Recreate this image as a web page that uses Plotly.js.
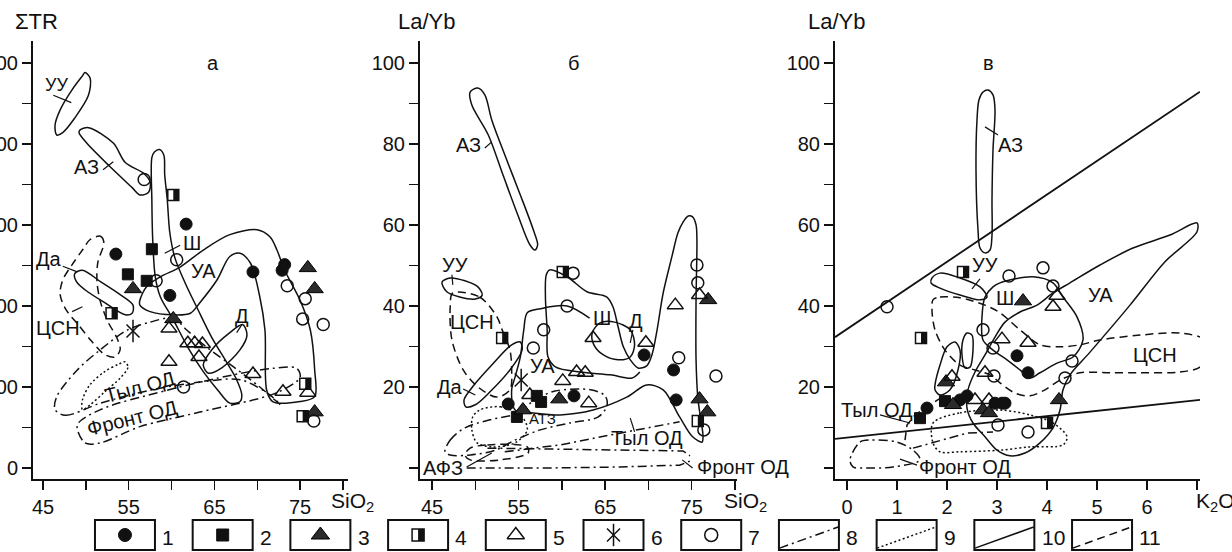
<!DOCTYPE html>
<html><head><meta charset="utf-8">
<script src="https://cdn.plot.ly/plotly-3.0.1.min.js"></script>
<style>body{margin:0;background:#fff}#chart{width:1232px;height:552px}</style>
</head><body><div id="chart"></div>
<script>
// ---------- Panel а : SiO2 vs ΣTR ----------
const aCircX=[61.7,53.5,59.8,69.5,72.9,73.2], aCircY=[301,264,213,242,244,251];
const aSqX=[57.7,54.9,57.1], aSqY=[270,239,231];
const aTriX=[55.5,60.2,75.9,76.7,76.7], aTriY=[221,184,247,221,69];
const aHalfX=[60.2,53.0,75.6,75.3], aHalfY=[337,191,104,64];
const aOTriX=[59.7,61.9,62.7,63.6,63.2,59.7,69.5,73.0,75.9], aOTriY=[172,154,154,153,137,131,116,94,93];
const aStarX=[55.5], aStarY=[169];
const aOCircX=[56.8,60.6,58.2,61.4,73.5,75.6,75.3,77.7,76.6], aOCircY=[356,257,231,100,225,209,184,177,58];
// fields panel а
const aUUx=[49.9,50.5,50.3,48.7,47.3,46.6,46.4,47.0,48.4,49.6,49.9], aUUy=[488,481,460,432,414,411,423,442,467,484,488];
const aAZx=[49.3,50.3,53.2,54.6,56.7,57.5,57.3,56.3,55.4,52.8,50.1,49.2,49.3], aAZy=[417,420,401,377,364,353,340,337,346,372,401,414,417];
const aShx=[57.7,58.0,58.6,59.1,59.2,59.5,59.8,60.4,61.6,63.1,64.7,66.4,67.5,68.2,68.0,66.8,65.4,63.7,61.9,60.1,58.7,58.1,57.8,57.7,57.7];
const aShy=[383,390,393,386,362,331,290,259,228,195,161,131,111,90,82,80,96,119,149,185,211,236,282,331,383];
const aUAx=[56.3,57.1,58.7,61.0,63.7,66.8,70.0,71.5,72.3,73.2,75.0,76.2,76.7,76.7,75.0,71.8,71.1,70.9,70.3,69.2,68.0,66.8,65.3,63.3,62.2,60.2,57.5,56.3,56.3];
const aUAy=[207,224,236,248,269,288,294,285,269,244,207,170,121,88,82,82,96,170,211,253,265,261,232,204,191,189,193,201,207];
const aDx=[68.3,68.8,68.0,65.9,64.3,63.7,64.7,66.8,68.3], aDy=[177,164,146,124,117,127,146,167,177];
const aDax=[48.7,49.6,51.7,54.0,55.5,55.4,54.6,52.2,49.9,48.9,48.7], aDay=[240,244,230,214,201,191,189,204,220,230,240];
const aCSNx=[50.5,51.7,52.1,51.4,51.3,51.7,52.6,53.6,54.0,53.4,52.2,50.7,49.1,47.7,47.0,47.3,48.4,49.6,50.5];
const aCSNy=[282,286,278,254,230,205,180,161,146,137,140,156,177,195,214,232,251,269,282];
const aDotX=[54.6,54.9,54.0,52.2,50.5,49.6,49.6,50.5,52.2,53.8,54.6], aDotY=[131,124,111,94,78,72,84,103,119,128,131];
const aTylX=[46.4,47.6,51.7,57.5,63.3,68.0,71.5,72.7,70.3,67.2,64.1,61.8,60.2,57.5,54.8,51.7,49.0,46.6,46.4];
const aTylY=[72,65,80,96,106,109,90,78,100,125,149,170,185,180,170,146,121,88,72];
const aFrX=[49.0,49.9,51.7,56.3,63.3,72.3,75.0,74.6,71.8,67.2,59.5,51.7,49.0], aFrY=[53,31,31,51,69,93,112,123,123,115,96,72,53];
const aLeadX=[46.2,48.3,null,52.0,53.2,null,59.2,61.0,null,68.2,67.6,null,47.3,49.0,null,48.4,49.6];
const aLeadY=[460,451,null,368,378,null,265,275,null,177,167,null,249,242,null,193,199];

// ---------- Panel б : SiO2 vs La/Yb ----------
const bCircX=[69.5,72.9,61.4,53.8,73.2], bCircY=[27.9,24.2,17.8,15.8,16.8];
const bSqX=[57.1,57.6,54.8], bSqY=[17.8,16.3,12.6];
const bTriX=[76.9,75.9,76.8,59.7,55.5], bTriY=[41.5,17.0,13.8,17.0,14.3];
const bHalfX=[60.1,53.1,75.7], bHalfY=[48.4,32.1,11.6];
const bOTriX=[63.6,69.7,73.1,75.9,60.1,61.7,62.7,63.1,56.3], bOTriY=[32.1,30.9,40.2,42.7,21.5,23.7,23.5,16.0,18.0];
const bStarX=[55.3], bStarY=[21.7];
const bOCircX=[61.3,60.6,57.9,56.7,75.6,75.7,73.5,77.8,76.4], bOCircY=[48.1,40.0,34.1,29.6,50.1,45.7,27.2,22.7,9.4];
const bAZx=[49.4,50.3,51.1,51.9,53.4,55.2,56.7,57.2,56.9,56.3,54.9,53.2,51.5,49.6,49.4];
const bAZy=[92.8,93.8,92.1,85.9,77.3,67.4,58.8,55.1,53.8,55.1,62.5,72.3,82.2,89.6,92.8];
const bUUx=[46.15,47.1,48.8,50.3,50.8,50.0,48.2,46.7,46.15], bUUy=[45.9,46.9,46.2,44.7,42.7,41.7,42.2,43.5,45.9];
const bDax=[54.2,55.2,55.4,54.0,51.7,50.0,48.9,48.7,49.6,51.9,54.2], bDay=[30.4,31.1,29.1,24.2,18.8,15.6,15.1,16.8,19.8,25.4,30.4];
const bCSNx=[47.4,50.5,52.5,53.1,54.0,54.2,54.0,52.5,50.3,48.6,47.3,47.1,47.4], bCSNy=[43.2,42.2,37.3,34.1,29.1,24.2,19.3,17.5,20.0,24.2,31.6,39.8,43.2];
const bShx=[63.2,60.6,57.5,56.0,55.6,55.2,54.6,54.2,54.6,56.7,59.8,63.6,67.5,69.8,71.7,73.6,75.1,76.2,76.3,76.0,75.7,75.5,75.5,75.6,75.5,75.1,74.6,74.0,73.4,72.7,71.7,71.0,70.4,69.8,68.8,67.9,67.1,66.5,65.9,65.2,62.9,60.6,58.6,58.2,58.1,58.3,58.4,59.3,62.1,65.6,68.1,69.0];
const bShy=[37.0,40.0,39.3,38.3,34.1,27.4,22.5,19.3,14.3,13.6,13.1,14.3,17.5,20.5,19.3,12.6,7.7,6.4,8.1,12.6,17.5,26.7,41.5,56.3,60.0,62.0,62.2,60.7,58.0,52.1,43.2,34.1,27.9,25.2,24.7,26.7,29.9,34.8,39.8,42.2,43.5,47.2,48.9,47.7,42.2,34.1,27.4,24.9,23.7,23.0,22.2,23.7];
const bDx=[63.5,64.4,66.1,67.9,68.4,67.9,66.5,64.8,63.7,63.5], bDy=[33.3,35.8,36.0,34.1,30.4,27.4,26.7,27.9,30.4,33.3];
const bTylX=[46.5,47.1,48.8,51.7,54.6,56.9,59.2,63.3,65.0,65.2,64.2,60.9,57.5,54.6,52.3,49.4,47.1,46.5];
const bTylY=[4.0,6.9,9.9,11.9,13.3,16.8,19.0,19.3,17.8,15.3,12.6,11.1,9.4,6.9,4.4,3.2,3.2,4.0];
const bDD2x=[53.4,59.8,66.7,73.6], bDD2y=[4.0,5.7,8.6,11.4];
const bDD3x=[51.4,58.6,66.7,74.0,74.8], bDD3y=[4.9,4.7,4.4,4.2,3.0];
const bDD4x=[49.0,58.6,66.7,73.6,74.8], bDD4y=[0,0,0.25,0.7,1.7];
const bDotX=[50.5,52.9,55.4,56.0,54.6,52.0,50.2,49.6,49.7,50.5], bDotY=[14.3,15.1,12.6,9.4,6.2,5.2,6.2,9.4,12.6,14.3];
const bDashX=[49.4,51.4,56.0,56.1,52.9,49.4,48.8,49.4], bDashY=[4.9,5.7,5.2,3.7,2.0,2.0,3.2,4.9];
const bLeadX=[51.1,51.9,null,47.3,47.4,null,48.6,50.0,null,68.2,67.9,null,67.9,68.4,null,73.9,75.1,null,49.0,51.9];
const bLeadY=[79.0,80.5,null,47.7,45.2,null,19.5,18.0,null,34.1,30.9,null,12.3,8.9,null,2.0,0,null,0.25,3.7];

// ---------- Panel в : K2O vs La/Yb ----------
const cCircX=[3.40,3.62,1.60,2.26,2.40,2.96,3.10,3.16], cCircY=[27.7,23.5,14.8,16.8,17.8,16.0,16.0,16.0];
const cSqX=[1.96,1.46], cSqY=[16.5,12.3];
const cTriX=[3.52,1.98,2.12,2.72,2.84,4.24], cTriY=[41.2,21.2,15.6,14.3,13.6,16.8];
const cHalfX=[2.32,1.48,4.00], cHalfY=[48.4,32.1,11.1];
const cOTriX=[4.20,4.12,3.10,3.62,2.76,2.10,2.56,2.84], cOTriY=[42.5,39.8,31.8,30.9,23.5,22.5,16.8,16.8];
const cOCircX=[0.80,3.24,3.92,4.12,2.72,2.92,4.50,2.94,4.36,3.62,3.02], cOCircY=[39.8,47.4,49.4,44.9,34.1,29.6,26.4,22.7,22.2,8.9,10.6];
const cAZx=[2.72,2.82,2.92,2.96,2.92,2.90,2.90,2.86,2.76,2.66,2.62,2.58,2.60,2.64,2.72];
const cAZy=[92.8,93.3,92.1,88.4,78.5,66.2,57.5,53.8,53.1,54.3,58.8,73.6,85.9,90.9,92.8];
const cUUx=[1.70,1.86,2.26,2.66,2.80,2.66,2.26,1.86,1.68,1.70], cUUy=[46.9,48.1,46.9,44.7,42.2,41.5,42.7,44.4,45.7,46.9];
const cShx=[3.06,3.72,4.12,4.32,4.60,4.72,4.52,4.20,3.86,3.66,3.46,3.20,2.92,2.72,2.70,2.76,2.92,3.06];
const cShy=[45.7,47.2,45.7,42.2,37.3,31.6,27.4,25.9,23.5,22.2,24.2,26.7,29.1,31.6,37.3,42.2,44.7,45.7];
const cUAx=[7.00,6.46,5.72,5.06,4.46,4.12,3.80,3.46,3.16,2.96,2.76,2.56,2.42,2.40,2.52,2.76,3.00,3.26,3.56,3.86,4.12,4.26,4.32,4.46,4.86,5.66,6.36,7.00,7.00];
const cUAy=[60.5,57.5,54.3,50.1,45.7,43.2,40.2,38.5,36.0,32.3,27.9,23.7,19.3,14.8,11.1,7.7,4.4,3.0,3.7,6.2,9.9,14.3,19.3,23.0,28.6,40.2,50.9,58.3,60.5];
const cCSNx=[1.72,1.86,2.26,2.76,3.06,3.46,3.86,4.26,4.66,5.06,5.86,6.66,7.16,7.22,7.06,6.66,5.86,5.26,4.66,4.26,3.96,3.66,3.36,3.06,2.86,2.56,2.26,1.96,1.76,1.70,1.72];
const cCSNy=[41.5,42.2,42.0,40.2,38.3,34.1,30.4,29.9,30.4,31.6,32.8,33.3,31.6,27.9,24.9,23.7,23.5,23.5,23.5,21.7,19.3,17.8,18.5,21.0,23.0,24.2,25.4,29.1,34.1,38.8,41.5];
const cSL1x=[2.40,2.50,2.52,2.46,2.36,2.30,2.32,2.40], cSL1y=[33.3,32.8,29.1,24.9,24.7,27.9,31.6,33.3];
const cSL2x=[1.76,1.86,2.00,2.16,2.26,2.22,2.06,1.86,1.76,1.76], cSL2y=[20.5,25.4,29.9,31.1,29.1,24.2,19.3,18.0,19.3,20.5];
const cDotX=[1.72,2.26,3.06,3.66,4.12,4.40,4.32,3.66,3.06,2.26,1.86,1.72,1.72], cDotY=[11.1,13.6,14.3,13.1,11.1,7.7,5.7,5.2,4.4,4.0,4.0,6.2,11.1];
const cFrX=[0.06,0.26,0.46,1.00,1.32,1.46,0.92,0.40,0.12,0.06], cFrY=[2.0,6.4,6.9,6.4,4.4,2.0,0.25,0.0,0.25,2.0];
const cDDx=[1.32,1.92,2.40,2.92], cDDy=[4.9,6.9,8.6,8.9];
const cDashX=[1.16,1.20,1.36,1.66,1.96], cDashY=[6.9,10.6,13.1,15.6,18.0];
const cLineX=[-0.24,7.06], cUpperY=[32.3,92.9], cLowerY=[7.2,16.8];
const cLeadX=[2.76,3.02,null,2.66,2.50,null,0.66,1.26,null,1.06,1.40];
const cLeadY=[84.2,82.2,null,46.7,44.2,null,13.1,11.1,null,2.2,0.7];

// ---------- legend ----------
const legendKeys=[1,2,3,4,5,6,7,8,9,10,11];

const INK='#111';
const FONT='Liberation Sans, Arial, sans-serif';
const traces=[];
function ln(x,y,ax,dash,w){traces.push({x,y,xaxis:'x'+ax,yaxis:'y'+ax,mode:'lines',hoverinfo:'skip',
  line:{color:INK,width:w||1.5,dash:dash||'solid',shape:'spline',smoothing:0.9}});}
function lnStraight(x,y,ax,dash,w){traces.push({x,y,xaxis:'x'+ax,yaxis:'y'+ax,mode:'lines',hoverinfo:'skip',
  line:{color:INK,width:w||1.5,dash:dash||'solid'}});}
const DD='9px,4px,2px,4px', DT='2px,2.5px', DS='8px,5px';
const M={
 circ:{symbol:'circle',size:12,color:INK,line:{color:INK,width:1}},
 sq:{symbol:'square',size:11,color:INK,line:{color:INK,width:1}},
 tri:{symbol:'triangle-up',size:15,color:'#2b2b2b',line:{color:'#000',width:1}},
 otri:{symbol:'triangle-up-open',size:14,color:INK,line:{color:INK,width:1.5}},
 ocirc:{symbol:'circle-open',size:12,color:INK,line:{color:INK,width:1.5}},
 st1:{symbol:'line-ns-open',size:16,color:INK,line:{color:INK,width:1.5}},
 st2:{symbol:'x-thin-open',size:13,color:INK,line:{color:INK,width:1.5}}
};
function mk(x,y,ax,m){traces.push({x,y,xaxis:'x'+ax,yaxis:'y'+ax,mode:'markers',marker:m,cliponaxis:false,hoverinfo:'skip'});}
// half-filled square: open square + filled right-half bar
function half(x,y,ax,s){
  s=s||11;
  mk(x,y,ax,{symbol:'square-open',size:s,color:INK,line:{color:INK,width:1.5}});
  mk(x,y,ax,{symbol:'line-ew',size:s/1.4,angle:270,standoff:s/4,color:INK,line:{color:INK,width:s/2}});
}

// panel а lines
ln(aUUx,aUUy,'');ln(aAZx,aAZy,'');ln(aShx,aShy,'');ln(aUAx,aUAy,'');ln(aDx,aDy,'');ln(aDax,aDay,'');
ln(aCSNx,aCSNy,'',DS);ln(aDotX,aDotY,'',DT);ln(aTylX,aTylY,'',DD);ln(aFrX,aFrY,'',DD);
lnStraight(aLeadX,aLeadY,'',null,1.2);
// panel б lines
ln(bAZx,bAZy,'2');ln(bUUx,bUUy,'2');ln(bDax,bDay,'2');ln(bCSNx,bCSNy,'2',DS);ln(bShx,bShy,'2');ln(bDx,bDy,'2');
ln(bTylX,bTylY,'2',DD);lnStraight(bDD2x,bDD2y,'2',DD);lnStraight(bDD3x,bDD3y,'2',DD);lnStraight(bDD4x,bDD4y,'2',DD);
ln(bDotX,bDotY,'2',DT);ln(bDashX,bDashY,'2',DS);lnStraight(bLeadX,bLeadY,'2',null,1.2);
// panel в lines
ln(cAZx,cAZy,'3');ln(cUUx,cUUy,'3');ln(cShx,cShy,'3');ln(cUAx,cUAy,'3');ln(cCSNx,cCSNy,'3',DS);
ln(cSL1x,cSL1y,'3');ln(cSL2x,cSL2y,'3');ln(cDotX,cDotY,'3',DT);ln(cFrX,cFrY,'3',DD);lnStraight(cDDx,cDDy,'3',DD);
lnStraight(cDashX,cDashY,'3',DS);lnStraight(cLineX,cUpperY,'3',null,1.8);lnStraight(cLineX,cLowerY,'3',null,1.8);
lnStraight(cLeadX,cLeadY,'3',null,1.2);

// markers
mk(aCircX,aCircY,'',M.circ);mk(aSqX,aSqY,'',M.sq);mk(aTriX,aTriY,'',M.tri);mk(aOTriX,aOTriY,'',M.otri);
mk(aStarX,aStarY,'',M.st1);mk(aStarX,aStarY,'',M.st2);mk(aOCircX,aOCircY,'',M.ocirc);half(aHalfX,aHalfY,'');
mk(bCircX,bCircY,'2',M.circ);mk(bSqX,bSqY,'2',M.sq);mk(bTriX,bTriY,'2',M.tri);mk(bOTriX,bOTriY,'2',M.otri);
mk(bStarX,bStarY,'2',M.st1);mk(bStarX,bStarY,'2',M.st2);mk(bOCircX,bOCircY,'2',M.ocirc);half(bHalfX,bHalfY,'2');
mk(cCircX,cCircY,'3',M.circ);mk(cSqX,cSqY,'3',M.sq);mk(cTriX,cTriY,'3',M.tri);mk(cOTriX,cOTriY,'3',M.otri);
mk(cOCircX,cOCircY,'3',M.ocirc);half(cHalfX,cHalfY,'3');

// legend samples
const legMarkers={1:M.circ,2:M.sq,3:M.tri,5:M.otri,7:M.ocirc};
Object.keys(legMarkers).forEach(k=>mk([+k],[0],'4',Object.assign({},legMarkers[k],{size:legMarkers[k].size+1})));
half([4],[0],'4',12);
mk([6],[0],'4',M.st1);mk([6],[0],'4',M.st2);
const legDash={8:DD,9:DT,10:'solid',11:DS};
Object.keys(legDash).forEach(k=>lnStraight([+k-0.3,+k+0.3],[-0.77,0.47],'4',legDash[k],1.5));

const shapes=legendKeys.map(k=>({type:'rect',xref:'x4',yref:'y4',x0:k-0.307,x1:k+0.307,y0:-0.88,y1:0.88,line:{color:INK,width:2}}));

function ann(text,x,y,ax,extra){return Object.assign({text,x,y,xref:'x'+ax,yref:'y'+ax,showarrow:false,
  font:{family:FONT,size:20,color:INK},xanchor:'center',yanchor:'middle'},extra||{});}
function pann(text,x,y,size){return {text,x,y,xref:'paper',yref:'paper',showarrow:false,font:{family:FONT,size:size||21,color:INK},xanchor:'center',yanchor:'middle'};}
const annotations=[
 ann('а',64.8,500,''),ann('УУ',46.6,473,'',{font:{family:FONT,size:18,color:INK}}),ann('АЗ',50.1,371,''),ann('Ш',62.4,278,''),
 ann('УА',63.7,243,''),ann('Д',68.2,188,''),ann('Да',45.7,258,''),ann('ЦСН',46.8,173,''),
 ann('Тыл ОД',56.3,100,'',{textangle:-15}),ann('Фронт ОД',55.4,62,'',{textangle:-14}),
 ann('б',61.3,100,'2'),ann('АЗ',49.2,79.8,'2'),ann('УУ',47.7,50.1,'2'),ann('ЦСН',49.6,36.0,'2'),ann('Да',47.1,20.0,'2'),
 ann('УА',57.8,25.2,'2'),ann('Ш',64.6,37.0,'2'),ann('Д',68.6,36.3,'2'),
 ann('АТЗ',57.8,12.3,'2',{font:{family:FONT,size:15,color:INK}}),ann('Тыл ОД',69.8,7.4,'2'),
 ann('Фронт ОД',75.4,0.25,'2',{xanchor:'left'}),ann('АФЗ',46.3,0,'2'),
 ann('в',2.82,100,'3'),ann('АЗ',3.26,79.8,'3'),ann('УУ',2.76,50.1,'3'),ann('Ш',3.16,42.0,'3'),ann('УА',5.06,42.7,'3'),
 ann('ЦСН',6.16,27.9,'3'),ann('Тыл ОД',0.60,14.3,'3'),ann('Фронт ОД',2.36,0.25,'3'),
 pann('ΣTR',36/1232,1-21/552,22),pann('La/Yb',427/1232,1-21/552,22),pann('La/Yb',837/1232,1-21/552,22),
 pann('SiO<sub>2</sub>',352/1232,1-502/552),pann('SiO<sub>2</sub>',745/1232,1-502/552),pann('K<sub>2</sub>O',1215/1232,1-502/552)
];
legendKeys.forEach(k=>annotations.push({text:String(k),x:k+0.36,y:-0.12,xref:'x4',yref:'y4',showarrow:false,xanchor:'left',yanchor:'middle',
  font:{family:FONT,size:21,color:INK}}));

const tickFont={family:FONT,size:20,color:INK};
const minorBase={ticks:'outside',ticklen:9,tickwidth:1.5,tickcolor:INK,showgrid:false};
function axBase(){return {showline:true,linecolor:INK,linewidth:2,ticks:'outside',ticklen:9,tickwidth:1.5,tickcolor:INK,
  showgrid:false,zeroline:false,tickfont:tickFont,automargin:false,fixedrange:true};}
const siTicks=[45,55,65,75];
const trTicks=[0,100,200,300,400,500];
const lyTicks=[20,40,60,80,100];
const kTicks=[0,1,2,3,4,5,6];
const yDom=[1-479/552,1-41/552];
const layout={width:1232,height:552,margin:{l:0,r:0,t:0,b:0},paper_bgcolor:'#fff',plot_bgcolor:'rgba(0,0,0,0)',showlegend:false,
 xaxis:Object.assign(axBase(),{domain:[33/1232,348/1232],range:[43.83,80.59],tickmode:'array',tickvals:siTicks,
   minor:Object.assign({tick0:45,dtick:5},minorBase),anchor:'y'}),
 yaxis:Object.assign(axBase(),{domain:yDom,range:[-13.6,527],tickmode:'array',tickvals:trTicks,
   minor:Object.assign({tick0:0,dtick:50},minorBase),anchor:'x'}),
 xaxis2:Object.assign(axBase(),{domain:[420/1232,737/1232],range:[43.61,80.23],tickmode:'array',tickvals:siTicks,
   minor:Object.assign({tick0:45,dtick:5},minorBase),anchor:'y2'}),
 yaxis2:Object.assign(axBase(),{domain:yDom,range:[-2.72,105.4],tickmode:'array',tickvals:lyTicks,
   minor:Object.assign({tick0:0,dtick:10},minorBase),anchor:'x2'}),
 xaxis3:Object.assign(axBase(),{domain:[835/1232,1200/1232],range:[-0.24,7.06],tickmode:'array',tickvals:kTicks,
   minor:Object.assign({tick0:0,dtick:1},minorBase),anchor:'y3'}),
 yaxis3:Object.assign(axBase(),{domain:yDom,range:[-2.72,105.4],tickmode:'array',tickvals:lyTicks,
   minor:Object.assign({tick0:0,dtick:10},minorBase),anchor:'x3'}),
 xaxis4:{domain:[0,1],range:[-0.279,12.33],visible:false,fixedrange:true,anchor:'y4'},
 yaxis4:{domain:[0,0.1],range:[-1,2.247],visible:false,fixedrange:true,anchor:'x4'},
 shapes,annotations
};
Plotly.newPlot('chart',traces,layout,{staticPlot:true,displayModeBar:false});
</script></body></html>
